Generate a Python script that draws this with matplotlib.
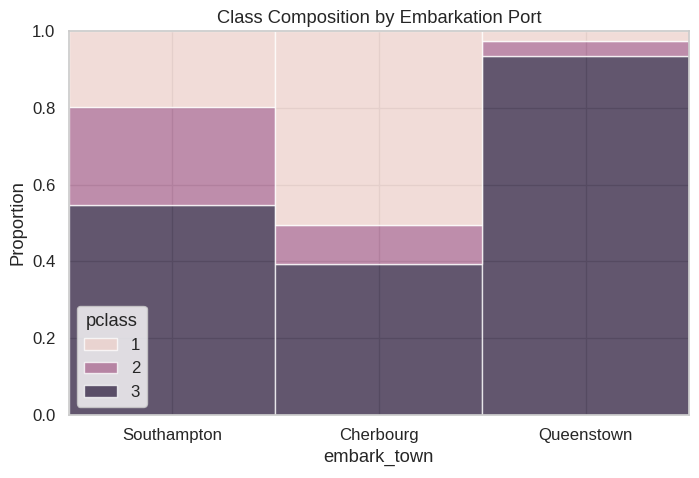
import numpy as np
import matplotlib
matplotlib.use("Agg")
import matplotlib.pyplot as plt
import seaborn as sns
from matplotlib.patches import Patch

# passenger counts per port and class (titanic)
towns = ["Southampton", "Cherbourg", "Queenstown"]
classes = [1, 2, 3]
class1 = [127, 85, 2]
class2 = [164, 17, 3]
class3 = [353, 66, 72]

sns.set_theme(style="whitegrid", font_scale=1.1)
plt.rcParams['font.family'] = ['Liberation Sans', 'DejaVu Sans']

counts = np.array([class1, class2, class3], dtype=float)
props = counts / counts.sum(axis=0)

# seaborn's default numeric-hue colormap
cmap = sns.color_palette("ch:", as_cmap=True)
colors = [cmap((c - 1) / 2) for c in classes]

fig, ax = plt.subplots(figsize=(6.99, 4.78), dpi=100)
fig.subplots_adjust(left=0.098, right=0.986, top=0.935, bottom=0.132)

x = np.arange(len(towns))
# stack class 3 at the bottom, then 2, then 1 on top
bottom = np.zeros(len(towns))
for i in [2, 1, 0]:
    ax.bar(x, props[i], width=1.0, bottom=bottom, color=colors[i],
           alpha=0.75, edgecolor="white", linewidth=1)
    bottom += props[i]

ax.set_xlim(-0.5, 2.5)
ax.set_ylim(0, 1)
ax.set_xticks(x)
ax.set_xticklabels(towns)
ax.set_xlabel("embark_town")
ax.set_ylabel("Proportion")
ax.set_title("Class Composition by Embarkation Port")

handles = [Patch(facecolor=colors[i], alpha=0.75, edgecolor="white")
           for i in range(3)]
ax.legend(handles, [str(c) for c in classes], title="pclass", loc="lower left")

fig.savefig("out.png", dpi=100)
